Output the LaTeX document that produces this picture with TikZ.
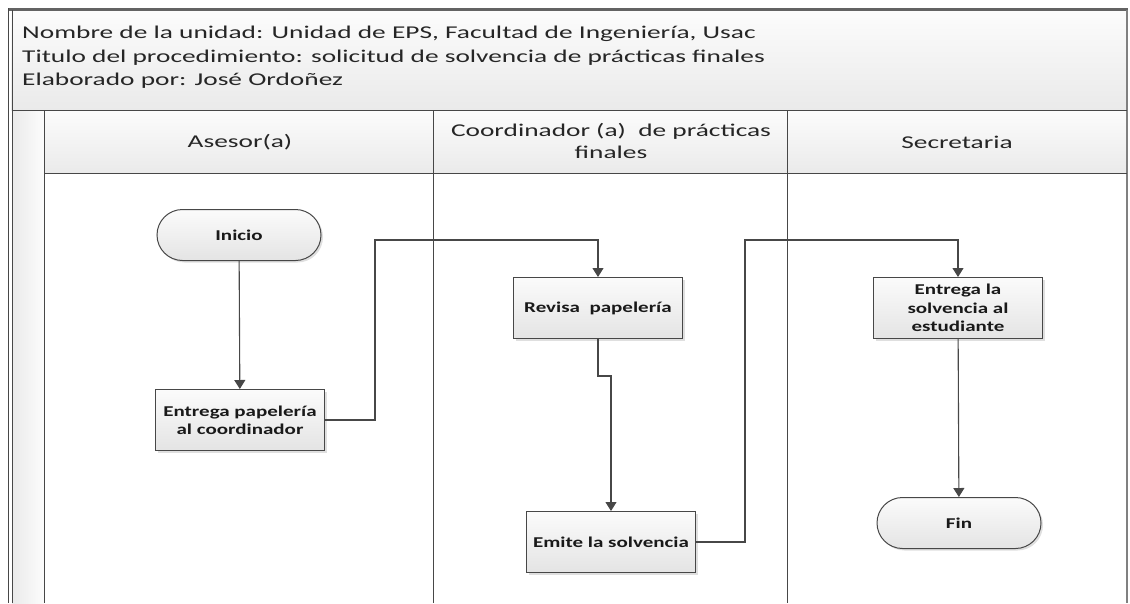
\documentclass[tikz,border=0pt]{standalone}
\usepackage{fontspec}
\setmainfont{Carlito}[FakeStretch=1.52]
\newfontfamily\nodefont{Carlito}[FakeStretch=1.4]
\usetikzlibrary{arrows.meta,shapes.misc,shadows}
\definecolor{linec}{HTML}{474747}
\definecolor{boxtop}{HTML}{FBFBFB}
\definecolor{boxbot}{HTML}{E4E4E4}
\definecolor{hdrtop}{HTML}{FCFCFC}
\definecolor{hdrbot}{HTML}{EAEAEA}
\tikzset{
  proc/.style={draw=linec, line width=1pt, top color=boxtop, bottom color=boxbot,
    minimum width=169pt, minimum height=61pt, align=center, inner sep=2pt,
    font=\nodefont\fontsize{15}{18.3}\selectfont\bfseries, text=black!90,
    drop shadow={shadow xshift=2pt, shadow yshift=-2pt, opacity=0.25, fill=gray}},
  term/.style={proc, rounded rectangle, minimum width=168pt, minimum height=51pt},
  flow/.style={draw=linec, line width=1.1pt, -{Triangle[length=9pt,width=11pt]}},
  lanehead/.style={font=\fontsize{18}{22.5}\selectfont, align=center, text=black!85},
  frame/.style={draw=linec, line width=1pt},
}
\begin{document}
\begin{tikzpicture}[x=1pt,y=-1pt]
\useasboundingbox (0,0) rectangle (1130,603);
% header area
\fill[top color=hdrtop, bottom color=hdrbot] (11,9) rectangle (1127,110);
% lane headers
\fill[top color=hdrtop, bottom color=hdrbot] (45,110) rectangle (1127,173);
% left narrow column
\fill[left color=hdrbot, right color=hdrtop] (12,110) rectangle (44,603);
% frame lines
\draw[draw=linec!85, line width=3pt] (8,9) -- (1128,9);
\draw[frame] (8,8) -- (8,603);
\draw[frame] (12,10) -- (12,603);
\draw[draw=gray, line width=1.2pt] (1127,10) -- (1127,603);
\draw[frame] (12,110) -- (1127,110);
\draw[frame] (44,173) -- (1127,173);
\draw[frame] (44,110) -- (44,603);
\draw[frame] (433,110) -- (433,603);
\draw[frame] (787,110) -- (787,603);
% header text
\node[anchor=north west, align=left, inner sep=0pt, font=\fontsize{18}{23.5}\selectfont, text=black!85]
  (title) at (22,26) {Nombre de la unidad: Unidad de EPS, Facultad de Ingeniería, Usac\\
  Titulo del procedimiento: solicitud de solvencia de prácticas finales\\
  Elaborado por: José Ordoñez};
% lane titles
\node[lanehead] (l1) at (240,142) {Asesor(a)};
\node[lanehead] (l2) at (611,141) {Coordinador (a)\ \ de prácticas\\finales};
\node[lanehead] (l3) at (957,142) {Secretaria};
% nodes
\node[term] (inicio) at (239,235) {Inicio};
\node[proc] (entrega) at (240,420) {Entrega papelería\\al coordinador};
\node[proc] (revisa) at (598,308) {Revisa\ \ papelería};
\node[proc] (emite) at (611,542) {Emite la solvencia};
\node[proc] (entsol) at (958,308) {Entrega la\\solvencia al\\estudiante};
\node[term] (fin) at (959,523) {Fin};
% connectors
\draw[flow] (inicio) -- (entrega);
\draw[flow] (entrega.east) -- (375,420) -- (375,240) -| (revisa.north);
\draw[flow] (revisa.south) -- (598,376) -- (611,376) -- (emite.north);
\draw[flow] (emite.east) -- (745,542) -- (745,240) -| (entsol.north);
\draw[flow] (entsol) -- (fin);
\end{tikzpicture}
\end{document}
